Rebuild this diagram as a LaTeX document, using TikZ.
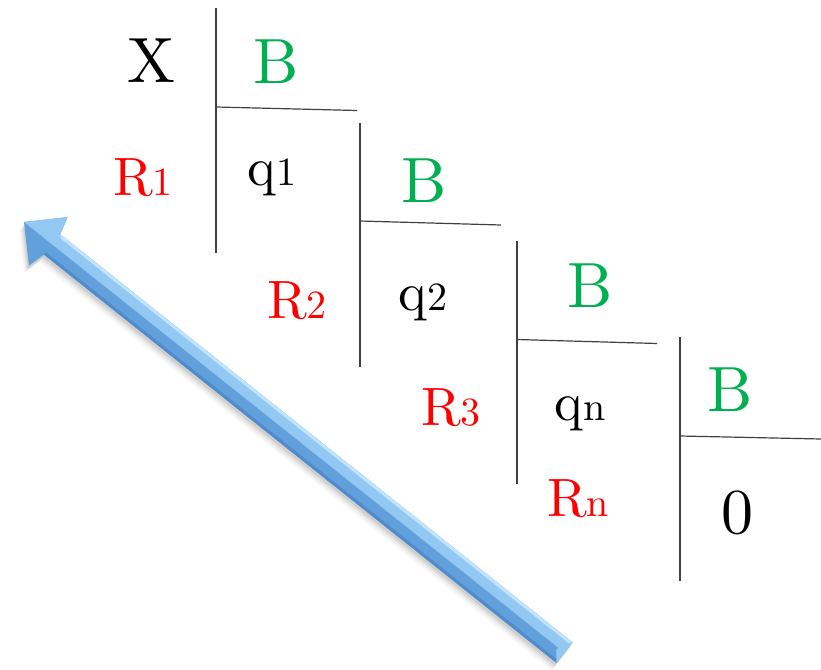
\documentclass[tikz,border=0pt]{standalone}
\usepackage{fontspec}
\setmainfont{lmroman10-regular.otf}
\usepackage{xcolor}
\definecolor{tapegreen}{RGB}{0,176,80}
\definecolor{arrowblue}{RGB}{98,160,220}
\definecolor{arrowdark}{RGB}{80,140,204}
\definecolor{arrowlight}{RGB}{146,200,242}
\definecolor{arrowshine}{RGB}{192,228,252}
\newcommand{\lo}[1]{{\fontsize{40}{40}\selectfont #1}}
\begin{document}
\begin{tikzpicture}[x=1pt, y=-1pt,
    rule/.style={line width=1.2pt, black!75},
    big/.style={anchor=base, inner sep=0pt, font=\fontsize{64}{64}\selectfont},
    mid/.style={anchor=base, inner sep=0pt, font=\fontsize{54}{54}\selectfont}]
    \useasboundingbox (0,0) rectangle (821,669);
    % the staircase of divisions
    \draw[rule] (216,8)--(216,253);
    \draw[rule] (216,107)--(357,110.5);
    \draw[rule] (360,123)--(360,367);
    \draw[rule] (360,221)--(501,225);
    \draw[rule] (517,241)--(517,484);
    \draw[rule] (517,339.5)--(657,343.5);
    \draw[rule] (680,337)--(680,581);
    \draw[rule] (680,436)--(821,439);
    % labels
    \node[big] (x) at (151,82){X};
    \node[big, tapegreen] (b1) at (276,83){B};
    \node[mid, red] (r1) at (143,195){R\lo{1}};
    \node[mid] (q1) at (272,185){q\lo{1}};
    \node[big, tapegreen] (b2) at (424,202){B};
    \node[mid, red] (r2) at (297,318){R\lo{2}};
    \node[mid] (q2) at (423,310){q\lo{2}};
    \node[big, tapegreen] (b3) at (590,307){B};
    \node[mid, red] (r3) at (451,425){R\lo{3}};
    \node[mid] (qn) at (580,420){q\lo{n}};
    \node[big, tapegreen] (b4) at (730,411){B};
    \node[mid, red] (rn) at (578,516){R\lo{n}};
    \node[big] (zero) at (737,533){0};
    % the blue arrow, drawn along its own axis
    \begin{scope}[shift={(24,222)}, rotate=-38.55, x=1pt, y=1pt]
        \foreach \s/\o in {9/0.03, 7/0.04, 5/0.06, 3/0.08}
            \fill[black, opacity=\o, shift={(1,-\s)}] (0,0)--(31,31)--(36,13)--(691,13)--(691,-13)--(36,-13)--(31,-31)--cycle;
        \fill[arrowblue] (0,0)--(31,31)--(36,13)--(691,13)--(691,-13)--(36,-13)--(31,-31)--cycle;
        \fill[arrowdark] (36,-13)--(691,-13)--(691,-10)--(36,-10)--cycle;
        \fill[arrowlight] (0,0)--(31,31)--(36,13)--(691,13)--(683,0)--(31,0)--cycle;
        \fill[arrowshine] (36,13)--(691,13)--(688,10)--(39,10)--cycle;
        \fill[arrowlight] (691,13)--(691,-13)--(683,-3)--(683,3)--cycle;
    \end{scope}
\end{tikzpicture}
\end{document}
